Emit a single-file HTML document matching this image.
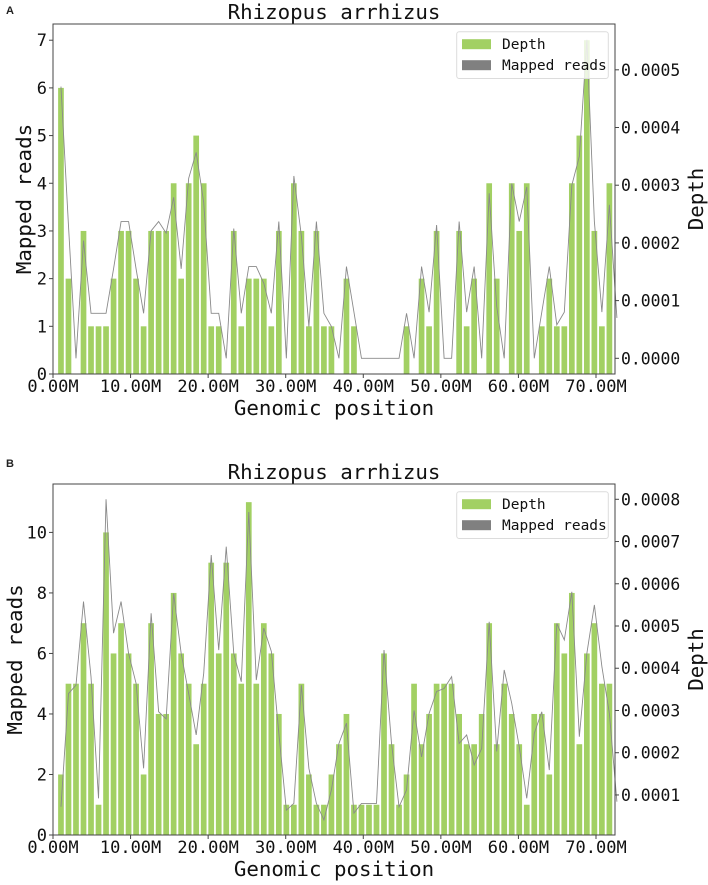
<!DOCTYPE html>
<html><head><meta charset="utf-8">
<style>
html,body{margin:0;padding:0;background:#fff;}
svg{display:block;font-family:"DejaVu Sans Mono","Liberation Mono",monospace;}
</style></head>
<body>
<svg id="fig" width="708" height="885" viewBox="0 0 708 885" xmlns="http://www.w3.org/2000/svg"></svg>
<script>
// ---------- Panel A data ----------
const readsA = [6,2,0,3,1,1,1,2,3,3,2,1,3,3,3,4,2,4,5,4,1,1,0,3,1,2,2,2,1,3,0,4,3,1,3,1,1,0,2,1,0,0,0,0,0,0,1,0,2,1,3,0,0,3,1,2,0,4,2,0,4,3,4,0,1,2,1,1,4,5,7,3,1,4];
const lineA = [4.71,2.3,0,2.04,0.78,0.78,0.78,1.55,2.37,2.37,1.55,0.78,2.21,2.37,2.17,2.79,1.55,3.12,3.57,2.7,0.78,0.78,0,2.25,0.78,1.59,1.59,1.3,0.78,2.37,0,3.16,2.12,0.55,2.37,0.78,0.55,0,1.59,0.8,0,0,0,0,0,0,0.78,0,1.59,0.8,2.31,0,0,2.37,0.8,1.59,0,2.86,0.9,0,3.03,2.37,2.97,0,0.8,1.59,0.58,0.8,3.0,3.5,5.52,2.37,0.8,2.66,0.7];
const leftTicksA = [0,1,2,3,4,5,6,7];
const rightTicksA = [0,1,2,3,4,5];
// ---------- Panel B data ----------
const readsB = [2,5,5,7,5,1,10,6,7,6,5,2,7,4,4,8,6,5,3,5,9,6,9,6,5,11,5,7,6,4,1,1,5,2,1,1,2,3,4,1,1,1,1,6,3,1,2,5,3,4,5,5,5,4,3,3,4,7,3,5,4,3,1,4,4,2,7,6,8,3,6,7,5,5];
const lineB = [0.72,3.4,3.6,5.58,3.8,0.92,8.0,4.83,5.58,4.35,3.64,1.63,5.3,2.97,2.8,5.77,4.35,3.4,2.42,3.88,6.68,4.43,6.88,4.35,3.68,7.7,3.72,4.95,4.4,2.46,0.64,0.8,3.6,1.63,0.8,0.41,1.12,2.22,2.7,0.57,0.8,0.8,0.8,4.43,2.22,0.72,1.12,3.0,1.9,2.93,3.45,3.52,3.8,2.22,2.42,1.71,2.1,5.1,2.03,3.96,3.17,2.14,0.92,2.46,2.97,1.59,5.06,4.67,5.81,2.38,4.35,5.5,4.04,2.93,0.84];
const leftTicksB = [0,2,4,6,8,10];
const rightTicksB = [1,2,3,4,5,6,7,8];
const xTicks = [0,10,20,30,40,50,60,70];
const binSize = 0.9685; // Mb per bin

const NS = "http://www.w3.org/2000/svg";
const svg = document.getElementById('fig');
function mk(tag, attrs, parent, text){
  const e = document.createElementNS(NS, tag);
  for (const k in attrs) e.setAttribute(k, attrs[k]);
  if (text !== undefined) e.textContent = text;
  (parent || svg).appendChild(e);
  return e;
}

function panel(cfg){
  const g = mk('g', {});
  
  
  const L = 53, R = 615, T = cfg.top, B = cfg.bottom;
  const xM = m => L + (m / 72.45) * (R - L);
  const xBin = i => xM((i + 1.06) * binSize);
  const yL = v => B - (v - cfg.lmin) / (cfg.lmax - cfg.lmin) * (B - T);
  const yR = v => B - (v - cfg.rmin) / (cfg.rmax - cfg.rmin) * (B - T);

  const pl = mk('text', {x: 6, y: cfg.letterY, 'font-family': 'Liberation Sans, sans-serif', 'font-weight': 'bold', 'font-size': 11, fill: '#222'}, g, cfg.letter);
  
  
  const tt = mk('text', {x: 334, y: T - 5, 'text-anchor': 'middle', 'font-size': 20.8, fill: '#111'}, g, 'Rhizopus arrhizus');
  
  

  const bw = 5.7;
  cfg.reads.forEach((v, i) => {
    if (v <= 0) return;
    const r = mk('rect', {x: xBin(i) - bw/2, y: yL(v), width: bw, height: yL(0) - yL(v), fill: '#a2d063'}, g);
    
    
  });
  const pts = cfg.line.map((v, i) => xBin(i).toFixed(2) + ',' + yR(v).toFixed(2)).join(' ');
  const pl2 = mk('polyline', {points: pts, fill: 'none', stroke: '#8a8a8a', 'stroke-width': 0.9}, g);
  
  

  const fr = mk('rect', {x: L, y: T, width: R - L, height: B - T, fill: 'none', stroke: '#444', 'stroke-width': 1}, g);
  
  

  cfg.lticks.forEach(v => {
    const y = yL(v);
    mk('line', {x1: L - 4, x2: L, y1: y, y2: y, stroke: '#444'}, g);
    const t = mk('text', {x: L - 6, y: y + 6, 'text-anchor': 'end', 'font-size': 17, fill: '#111'}, g, String(v));
    
    
  });
  cfg.rticks.forEach(v => {
    const y = yR(v);
    mk('line', {x1: R, x2: R + 4, y1: y, y2: y, stroke: '#444'}, g);
    const t = mk('text', {x: R + 6, y: y + 6, 'font-size': 16.4, fill: '#111'}, g, (v * 0.0001).toFixed(4));
    
    
  });
  xTicks.forEach(m => {
    const x = xM(m);
    mk('line', {x1: x, x2: x, y1: B, y2: B + 4, stroke: '#444'}, g);
    const t = mk('text', {x: x, y: B + 18, 'text-anchor': 'middle', 'font-size': 17, fill: '#111'}, g, m.toFixed(2) + 'M');
    
    
  });
  const xl = mk('text', {x: 334, y: B + 41, 'text-anchor': 'middle', 'font-size': 20.8, fill: '#111'}, g, 'Genomic position');
  
  
  const yc = (T + B) / 2;
  const yl = mk('text', {x: 0, y: 0, 'text-anchor': 'middle', 'font-size': 20.8, fill: '#111', transform: 'translate(' + (cfg.ylabelX) + ',' + yc + ') rotate(-90)'}, g, 'Mapped reads');
  
  
  const yr = mk('text', {x: 0, y: 0, 'text-anchor': 'middle', 'font-size': 20.8, fill: '#111', transform: 'translate(703,' + yc + ') rotate(-90)'}, g, 'Depth');
  
  

  const lg = mk('g', {}, g);
  
  
  const ly = cfg.legendY;
  mk('rect', {x: 456.7, y: ly, width: 151.6, height: 46.8, rx: 2.5, fill: 'rgba(255,255,255,0.8)', stroke: '#dcdcdc'}, lg);
  const e1 = mk('g', {}, lg);
  
  
  mk('rect', {x: 462, y: ly + 7.5, width: 29, height: 10, fill: '#a2d063'}, e1);
  mk('text', {x: 502, y: ly + 17.5, 'font-size': 14.5, fill: '#111'}, e1, 'Depth');
  const e2 = mk('g', {}, lg);
  
  
  mk('rect', {x: 462, y: ly + 28.5, width: 29, height: 10, fill: '#808080'}, e2);
  mk('text', {x: 502, y: ly + 38.5, 'font-size': 14.5, fill: '#111'}, e2, 'Mapped reads');
}

panel({name: 'chart-a', letter: 'A', letterY: 14, top: 24, bottom: 374,
  reads: readsA, line: lineA, lmin: 0, lmax: 7.34, rmin: -0.272, rmax: 5.794,
  lticks: leftTicksA, rticks: rightTicksA, legendY: 31.7, ylabelX: 31});
panel({name: 'chart-b', letter: 'B', letterY: 467, top: 484, bottom: 835,
  reads: readsB, line: lineB, lmin: 0, lmax: 11.6, rmin: 0.052, rmax: 8.362,
  lticks: leftTicksB, rticks: rightTicksB, legendY: 491.7, ylabelX: 22});
</script>
</body></html>
